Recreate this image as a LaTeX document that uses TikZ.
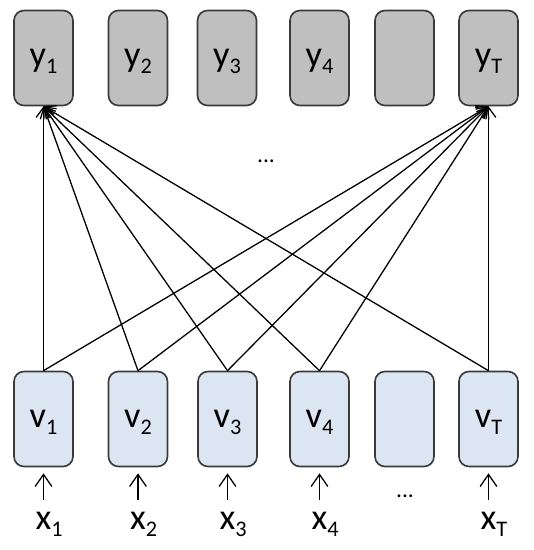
\documentclass[tikz,border=0pt]{standalone}
\usepackage{fontspec}
\setmainfont{Carlito}
\usetikzlibrary{arrows.meta, positioning}
\definecolor{fOut}{HTML}{BFBFBF}
\definecolor{fIn}{HTML}{DCE6F2}
\definecolor{bdr}{HTML}{3A3A3A}
% letter with lowered subscript; \lblx keeps the subscript out of the width
\newcommand{\lbl}[2]{#1\raisebox{-0.2em}[0pt][0pt]{\fontsize{19}{19}\selectfont #2}}
\newcommand{\lblx}[2]{#1\rlap{\raisebox{-0.2em}[0pt][0pt]{\fontsize{19}{19}\selectfont #2}}}
\tikzset{
  B/.style={draw=bdr, line width=1.4pt, rounded corners=0.3cm,
    minimum width=1.77cm, minimum height=2.85cm, inner sep=0pt,
    text height=14.5pt, text depth=0pt, font=\fontsize{31}{34}\selectfont},
  Bo/.style={B, fill=fOut},
  Bi/.style={B, fill=fIn},
  xl/.style={inner sep=0pt, text height=14.5pt, text depth=0pt,
    font=\fontsize{31}{34}\selectfont},
  A/.style={line width=1.1pt, -{Straight Barb[length=3mm, width=4.4mm]}},
  Ax/.style={line width=1.1pt, -{Straight Barb[length=3.6mm, width=5mm, line width=1.1pt]}},
  dots/.style={font=\fontsize{20}{24}\selectfont},
}
\begin{document}
\begin{tikzpicture}[x=0.03cm, y=-0.03cm]
\useasboundingbox (0,0) rectangle (534,550);

% =====================================================================
% OUTPUT ROW
% =====================================================================
\node[Bo] (y1) at (43.5,58) {\lbl{y}{1}};
\node[Bo] (y2) at (138,58) {\lbl{y}{2}};
\node[Bo] (y3) at (227,58) {\lbl{y}{3}};
\node[Bo] (y4) at (319.5,58) {\lbl{y}{4}};
\node[Bo] (ye) at (404.5,58) {};
\node[Bo] (yT) at (488.5,58) {\lbl{y}{T}};

\node[dots] (dm) at (266,161) {...};

% =====================================================================
% INPUT ROW
% =====================================================================
\node[Bi] (v1) at (43.5,419) {\lbl{v}{1}};
\node[Bi] (v2) at (138,419) {\lbl{v}{2}};
\node[Bi] (v3) at (227.5,419) {\lbl{v}{3}};
\node[Bi] (v4) at (319.5,419) {\lbl{v}{4}};
\node[Bi] (ve) at (404.5,419) {};
\node[Bi] (vT) at (488.5,419) {\lbl{v}{T}};

% ── inputs ───────────────────────────────────────────────────────────
\node[xl, below=1.35cm of v1] (x1) {\lblx{x}{1}};
\node[xl, below=1.35cm of v2] (x2) {\lblx{x}{2}};
\node[xl, below=1.35cm of v3] (x3) {\lblx{x}{3}};
\node[xl, below=1.35cm of v4] (x4) {\lblx{x}{4}};
\node[xl, below=1.35cm of vT] (xT) {\lblx{x}{T}};
\node[dots] (db) at (405,496) {...};

\draw[Ax, shorten <=0.36cm, shorten >=0.18cm] (x1.north) -- (v1.south);
\draw[Ax, shorten <=0.36cm, shorten >=0.18cm] (x2.north) -- (v2.south);
\draw[Ax, shorten <=0.36cm, shorten >=0.18cm] (x3.north) -- (v3.south);
\draw[Ax, shorten <=0.36cm, shorten >=0.18cm] (x4.north) -- (v4.south);
\draw[Ax, shorten <=0.36cm, shorten >=0.18cm] (xT.north) -- (vT.south);

% ── connections to y_1 and y_T ───────────────────────────────────────
\draw[A] (v1.north) -- (y1.south);
\draw[A] (v2.north) -- (y1.south);
\draw[A] (v3.north) -- (y1.south);
\draw[A] (v4.north) -- (y1.south);
\draw[A] (vT.north) -- (y1.south);
\draw[A] (v1.north) -- (yT.south);
\draw[A] (v2.north) -- (yT.south);
\draw[A] (v3.north) -- (yT.south);
\draw[A] (v4.north) -- (yT.south);
\draw[A] (vT.north) -- (yT.south);

\end{tikzpicture}
\end{document}
